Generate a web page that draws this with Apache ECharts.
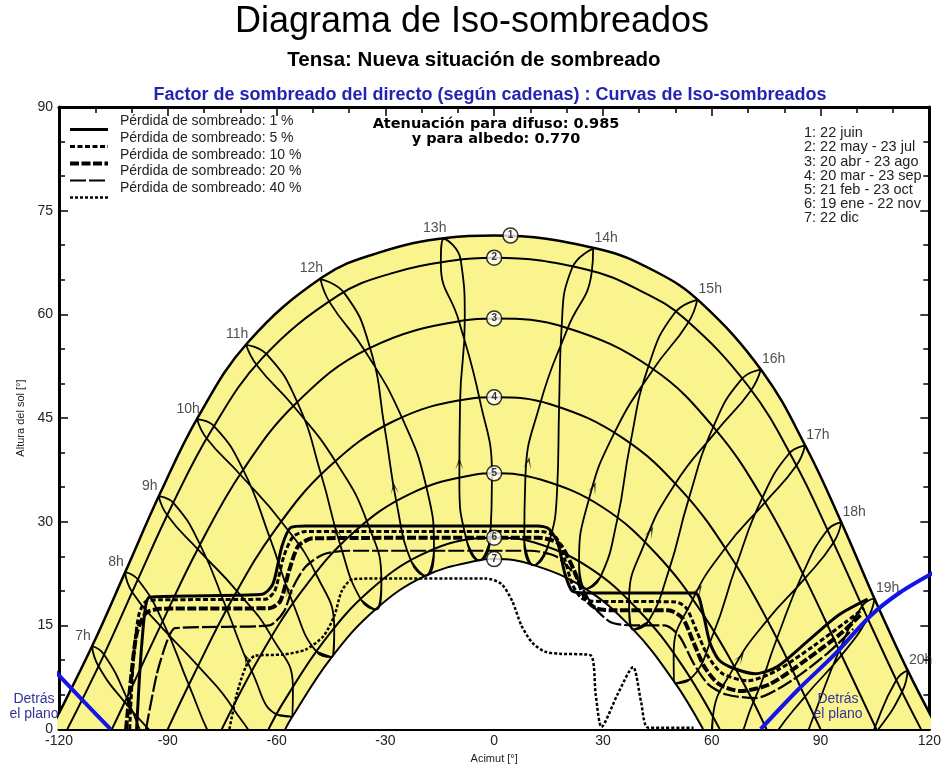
<!DOCTYPE html>
<html>
<head>
<meta charset="utf-8">
<title>Diagrama de Iso-sombreados</title>
<script src="https://cdn.jsdelivr.net/npm/echarts@6/dist/echarts.min.js"></script>
<style>
  html, body { margin: 0; padding: 0; background: #fff; }
  #chart { width: 944px; height: 769px; }
</style>
</head>
<body>
<div id="chart"></div>
<script>
const sol1 = [[-122.4,0],[-120.1,2.2],[-110.6,12.3],[-101.5,23.0],[-92.2,34.0],[-81.6,45.2],[-68.0,55.9],[-47.3,65.4],[-32.0,68.9],[-12.8,71.1],[0,71.4],[28.5,69.5],[44.5,66.2],[56.8,61.8],[74.0,51.7],[86.1,40.7],[96.0,29.6],[105.1,18.6],[114.3,8.2],[122.4,0]];
const sol2 = [[-117.7,0],[-108.1,10.2],[-98.8,21.0],[-89.1,32.1],[-78.0,43.2],[-63.9,53.7],[-43.1,62.7],[-28.6,65.9],[-11.3,67.8],[0,68.2],[25.4,66.5],[40.4,63.4],[52.5,59.4],[70.1,49.6],[82.7,38.8],[93.0,27.6],[102.5,16.6],[111.9,6.0],[117.7,0]];
const sol3 = [[-105.4,0],[-101.5,4.3],[-91.6,15.4],[-81.3,26.5],[-69.5,37.3],[-54.7,47.1],[-34.8,55.0],[-8.6,59.1],[0,59.4],[19.7,58.1],[43.5,52.2],[61.1,43.3],[74.5,33.0],[85.5,22.1],[95.6,10.9],[105.4,0]];
const sol4 = [[-90,0],[-82.9,7.8],[-72.3,18.7],[-60.3,28.9],[-45.8,37.8],[-27.9,44.5],[-6.7,47.8],[0,48],[15.5,47.0],[35.5,42.1],[51.9,34.4],[65.3,24.9],[76.7,14.4],[87.0,3.3],[90,0]];
const sol5 = [[-75.1,0],[-64.4,10.7],[-52.7,20.2],[-39.1,28.3],[-23.3,34.0],[-5.5,36.8],[0,37],[12.8,36.1],[29.9,32.1],[44.8,25.3],[57.6,16.6],[68.7,6.7],[75.1,0]];
const sol6 = [[-62.2,0],[-58.1,3.9],[-47.0,12.7],[-34.4,20.0],[-20.2,25.2],[-4.8,27.6],[0,27.7],[11.1,27.0],[26.1,23.4],[39.6,17.3],[51.6,9.4],[62.2,0]];
const sol7 = [[-57.6,0],[-55.9,1.6],[-45.1,10.2],[-33.0,17.2],[-19.3,22.1],[-4.5,24.4],[0,24.6],[10.5,23.8],[24.9,20.4],[38.0,14.6],[49.6,6.9],[57.6,0]];

// Lineas horarias (dic, ene, feb, mar, abr, may, jun, jul, ago, sep, oct, nov, dic)
const hora07 = [[-74.9,-18.6],[-79.1,-18.6],[-87.0,-13.2],[-94.3,-4.7],[-101.3,4.5],[-107.6,10.8],[-110.9,12.0],[-109.1,9.1],[-101.9,3.9],[-91.8,-2.0],[-82.1,-7.7],[-75.2,-14.2],[-74.9,-18.6]];
const hora08 = [[-65.4,-7.9],[-69.7,-7.9],[-77.1,-2.2],[-84.2,6.4],[-91.4,15.6],[-98.2,21.6],[-101.8,22.7],[-99.8,19.8],[-92.0,14.9],[-81.6,9.1],[-72.1,3.1],[-65.7,-3.8],[-65.4,-7.9]];
const hora09 = [[-55.7,1.8],[-59.8,2.1],[-66.8,8.3],[-73.7,17.3],[-81.1,26.7],[-88.4,32.7],[-92.5,33.7],[-90.1,30.9],[-81.7,26.0],[-70.8,19.9],[-61.3,13.3],[-55.5,6.0],[-55.7,1.8]];
const hora10 = [[-44.8,10.4],[-49.0,11.2],[-55.4,18.1],[-61.8,27.6],[-69.2,37.5],[-77.2,43.8],[-81.9,44.8],[-79.2,42.0],[-70.0,36.8],[-58.5,29.9],[-49.1,22.4],[-44.1,14.4],[-44.8,10.4]];
const hora11 = [[-32.6,17.3],[-36.7,18.7],[-42.3,26.4],[-47.6,36.6],[-54.3,47.3],[-62.7,54.2],[-68.4,55.6],[-65.4,52.6],[-55.3,46.7],[-43.6,38.6],[-34.9,29.8],[-31.1,21.2],[-32.6,17.3]];
const hora12 = [[-18.9,22.2],[-22.8,24.2],[-26.9,32.7],[-30.2,43.6],[-34.2,55.1],[-41.2,63.0],[-47.9,65.1],[-45.3,61.7],[-35.6,54.7],[-25.3,44.9],[-18.6,34.8],[-16.6,25.7],[-18.9,22.2]];
const hora13 = [[-4.1,24.4],[-7.5,27.1],[-9.6,36.2],[-9.4,47.4],[-8.1,59.1],[-9.2,67.8],[-13.9,70.9],[-14.7,67.3],[-9.7,59.0],[-4.0,47.7],[-0.6,36.6],[-1.1,27.4],[-4.1,24.4]];
const hora14 = [[10.9,23.7],[8.3,27.1],[8.6,36.3],[12.7,47.1],[20.2,57.9],[26.9,66.1],[27.3,69.5],[21.4,66.6],[18.6,58.1],[17.9,46.4],[17.4,35.0],[14.6,26.1],[10.9,23.7]];
const hora15 = [[25.3,20.3],[23.4,24.0],[26.0,33.0],[33.0,42.7],[43.8,52.0],[53.5,58.8],[56.0,62.1],[49.6,60.1],[42.5,52.4],[37.5,41.2],[33.9,30.2],[29.3,22.0],[25.3,20.3]];
const hora16 = [[38.3,14.4],[37.2,18.4],[41.4,26.8],[49.8,35.4],[61.3,43.1],[70.8,49.0],[73.5,52.0],[68.2,50.6],[60.4,43.7],[53.6,33.2],[48.2,23.0],[42.4,15.5],[38.3,14.4]];
const hora17 = [[49.9,6.6],[49.5,10.8],[54.6,18.6],[63.6,26.1],[74.7,32.8],[83.3,38.1],[85.7,41.0],[81.4,39.9],[73.9,33.4],[66.7,23.6],[60.5,13.9],[54.0,7.2],[49.9,6.6]];
const hora18 = [[59.9,-2.2],[60.3,1.7],[66.1,8.9],[75.2,15.7],[85.7,21.8],[93.6,27.0],[95.7,29.9],[91.9,28.8],[85.1,22.5],[77.9,13.0],[71.4,3.8],[64.4,-2.4],[59.9,-2.2]];
const hora19 = [[69.4,-12.3],[70.1,-8.4],[76.5,-1.6],[85.7,4.7],[95.8,10.7],[103.0,16.0],[104.9,18.9],[101.5,17.8],[95.2,11.4],[88.2,2.0],[81.5,-7.0],[73.9,-12.7],[69.4,-12.3]];
const hora20 = [[78.5,-23.0],[79.5,-19.1],[86.4,-12.6],[95.8,-6.4],[105.7,-0.2],[112.5,5.4],[114.0,8.5],[110.9,7.1],[105.1,0.4],[98.4,-9.1],[91.4,-18.1],[83.4,-23.6],[78.5,-23.0]];
const horaNombres = ['7h','8h','9h','10h','11h','12h','13h','14h','15h','16h','17h','18h','19h','20h'];

// flechas de sentido [acimut, altura, giro]
const flechas = [[-68.2,10.1,22],[-56.7,20.0,19],[-43.4,28.4,15],[-27.6,34.9,9],[-9.6,38.4,0],[9.4,38.5,-11],[27.4,34.9,-21],[43.1,28.5,-27],[56.4,20.1,-32],[67.9,10.3,-35]];

// marcas de fecha [acimut, altura, numero]
const marcas = [[4.5,71.4,'1'],[0,68.2,'2'],[0,59.4,'3'],[0,48,'4'],[0,37,'5'],[0,27.7,'6'],[0,24.6,'7']];
const fechasTexto = ['1: 22 juin','2: 22 may - 23 jul','3: 20 abr - 23 ago','4: 20 mar - 23 sep','5: 21 feb - 23 oct','6: 19 ene - 22 nov','7: 22 dic'];

// curvas de iso-sombreado
const perdida1 = [[-98.6,0],[-97.5,10],[-96.2,17.5],[-95,19.1],[-80,19.3],[-64,19.5],[-61,21],[-58.5,26.5],[-56,29.2],[-52,29.4],[12,29.4],[15,29],[17.5,27],[19.5,22.5],[21.5,20],[25,19.7],[55.4,19.7],[57.5,17],[59.5,12.5],[62,10],[66,8.8],[72,8],[78,9],[86,12.5],[95,16.5],[103,18.8]];
const perdida5 = [[-100.5,0],[-99.5,10],[-98,16.5],[-96,18.5],[-92,18.7],[-63,18.8],[-60.5,20],[-58,25],[-55.5,27.8],[-52,28.6],[13,28.6],[17,27.8],[19.5,24.5],[21.5,21],[24,19],[27,18.5],[50,18.4],[53,17.5],[56,14],[59,10.5],[63,8],[70,7],[78,8.5],[88,12],[97,15.5],[102,17.5]];
const perdida10 = [[-101.5,0],[-100,8],[-98.5,14],[-96,16.8],[-92,17.4],[-62,17.5],[-59,18.5],[-56.5,23],[-54,26.5],[-50,27.6],[12,27.7],[18,26.8],[22,23],[25,19],[28,17.5],[32,17.2],[48,17.2],[52,16],[55,12.5],[58,9],[62,6.5],[68,5.5],[76,6.5],[86,10],[96,14],[101,16.5]];
const perdida20 = [[-96,0],[-93,8],[-90,13],[-88,14.6],[-75,14.8],[-62,15],[-58,17],[-55.5,20.5],[-52,23.5],[-47,25.3],[-40,25.8],[10,25.8],[17,25],[22,22.5],[27,18],[32,15.5],[38,15],[47,15],[51,13.5],[55,9.5],[59,6.5],[64,5],[72,4.5],[82,7],[92,11],[99,14.5]];
const perdida40 = [[-73,0],[-71,5],[-68.5,9],[-66,10.6],[-58,10.8],[-52,11.5],[-47,13.5],[-44,16.5],[-42,20],[-39,21.7],[-30,21.8],[-2.4,21.8],[2,21],[5,18.5],[7.5,15],[10.5,12.5],[14,11.2],[18,10.9],[26.5,10.7],[28,5],[29.6,0.3],[34,5],[38.3,9],[40.5,4],[42.5,0.2],[55,0.2]];
const perdidaNombres = ['Pérdida de sombreado: 1 %','Pérdida de sombreado: 5 %','Pérdida de sombreado: 10 %','Pérdida de sombreado: 20 %','Pérdida de sombreado: 40 %'];

// plano de los modulos
const planoIzq = [[-121,8.3],[-113,3.9],[-105.8,0]];
const planoDer = [[73.5,0],[84,5.8],[93.9,10.8],[103.8,16.4],[112,19.8],[121,22.6]];

const amarillo = '#faf48e';
const fuente = 'Liberation Sans, Arial, sans-serif';
const horas = [hora07,hora08,hora09,hora10,hora11,hora12,hora13,hora14,hora15,hora16,hora17,hora18,hora19,hora20];

const series = [];
// zona amarilla y hueco blanco
series.push({ type: 'line', data: sol1, smooth: 0.4, showSymbol: false, silent: true, z: 1,
  lineStyle: { color: '#000', width: 2.5 }, areaStyle: { color: amarillo, opacity: 1 } });
series.push({ type: 'line', data: sol7, smooth: 0.4, showSymbol: false, silent: true, z: 1,
  lineStyle: { color: '#000', width: 2 }, areaStyle: { color: '#fff', opacity: 1 } });
[sol2, sol3, sol4, sol5, sol6].forEach(d => {
  series.push({ type: 'line', data: d, smooth: 0.4, showSymbol: false, silent: true, z: 2,
    lineStyle: { color: '#000', width: 2 } });
});
horas.forEach(h => {
  // cerrar el lazo por diciembre
  const lazo = [h[11]].concat(h, [h[1]]);
  series.push({ type: 'line', data: lazo, smooth: 0.5, showSymbol: false, silent: true, z: 2,
    lineStyle: { color: '#000', width: 1.8 } });
});

const estilos = [
  { width: 3, type: 'solid' },
  { width: 3, type: [5, 2.5] },
  { width: 4, type: [9, 2.5] },
  { width: 2.2, type: [16, 3] },
  { width: 2.5, type: [3, 2] }
];
[perdida1, perdida5, perdida10, perdida20, perdida40].forEach((d, i) => {
  series.push({ type: 'line', name: perdidaNombres[i], data: d, smooth: 0.25, showSymbol: false, silent: true, z: 3,
    lineStyle: Object.assign({ color: '#000' }, estilos[i]) });
});

[planoIzq, planoDer].forEach(d => {
  series.push({ type: 'line', data: d, smooth: 0.3, showSymbol: false, silent: true, z: 4,
    lineStyle: { color: '#1414e6', width: 4 } });
});

// punta de flecha abierta
series.push({ type: 'scatter', z: 5, silent: true,
  data: flechas.map(f => ({ value: [f[0], f[1]], symbolRotate: f[2] })),
  symbol: 'path://M0,14 L5,0 L10,14 L5,5 Z', symbolSize: [8, 12], itemStyle: { color: '#000' } });

series.push({ type: 'scatter', z: 6, silent: true,
  data: horas.map((h, i) => ({
    value: h[6],
    label: { offset: [i < 7 ? -9 : 13, 0] }
  })),
  symbolSize: 1, itemStyle: { color: 'rgba(0,0,0,0)' },
  label: { show: true, position: 'top', distance: 3, fontFamily: fuente, fontSize: 14, color: '#222',
    formatter: p => horaNombres[p.dataIndex] } });

series.push({ type: 'scatter', z: 7, silent: true,
  data: marcas.map(m => ({ value: [m[0], m[1]], name: m[2] })),
  symbol: 'circle', symbolSize: 15,
  itemStyle: { color: '#fff', borderColor: '#000', borderWidth: 1.5 },
  label: { show: true, position: 'inside', formatter: '{b}', fontFamily: fuente, fontSize: 10, fontWeight: 'bold', color: '#000' } });

const ejeX = {
  type: 'value', min: -120, max: 120, interval: 30,
  axisLine: { onZero: false, lineStyle: { color: '#000', width: 3 } },
  axisTick: { inside: true, length: 9, lineStyle: { color: '#000', width: 1.5 } },
  minorTick: { show: true, splitNumber: 3, length: 6, lineStyle: { color: '#000', width: 1.5 } },
  splitLine: { show: false }
};
const ejeY = {
  type: 'value', min: 0, max: 90, interval: 15,
  axisLine: { onZero: false, lineStyle: { color: '#000', width: 3 } },
  axisTick: { inside: true, length: 9, lineStyle: { color: '#000', width: 1.5 } },
  minorTick: { show: true, splitNumber: 3, length: 6, lineStyle: { color: '#000', width: 1.5 } },
  splitLine: { show: false }
};

const leyendaLineas = estilos.map((e, i) => ({
  type: 'line',
  shape: { x1: 70, y1: 129.5 + i * 17, x2: 108, y2: 129.5 + i * 17 },
  style: { stroke: '#000', lineWidth: e.width, lineDash: e.type === 'solid' ? null : e.type }
}));

const chart = echarts.init(document.getElementById('chart'));
chart.setOption({
  animation: false,
  backgroundColor: '#fff',
  textStyle: { fontFamily: fuente },
  grid: { left: 59, right: 11, top: 107, bottom: 39 },
  title: [
    { text: 'Diagrama de Iso-sombreados', left: 472, top: 4, textAlign: 'center', padding: 0,
      textStyle: { fontFamily: fuente, fontSize: 36, fontWeight: 'normal', color: '#000' } },
    { text: 'Tensa: Nueva situación de sombreado', left: 474, top: 50, textAlign: 'center', padding: 0,
      textStyle: { fontFamily: fuente, fontSize: 20.5, fontWeight: 'bold', color: '#000' } },
    { text: 'Factor de sombreado del directo (según cadenas) : Curvas de Iso-sombreados', left: 490, top: 86, textAlign: 'center', padding: 0,
      textStyle: { fontFamily: fuente, fontSize: 18, fontWeight: 'bold', color: '#2424b4' } },
    { text: 'Atenuación para difuso: 0.985\ny para albedo: 0.770', left: 496, top: 117, textAlign: 'center', padding: 0,
      textStyle: { fontFamily: 'DejaVu Sans, sans-serif', fontSize: 14.5, fontWeight: 'bold', color: '#000', lineHeight: 15 } },
    { text: perdidaNombres.join('\n'), left: 120, top: 113, padding: 0,
      textStyle: { fontFamily: fuente, fontSize: 14, fontWeight: 'normal', color: '#222', lineHeight: 16.7 } },
    { text: fechasTexto.join('\n'), left: 804, top: 126, padding: 0,
      textStyle: { fontFamily: fuente, fontSize: 14.5, fontWeight: 'normal', color: '#222', lineHeight: 14.2 } },
    { text: 'Detrás\nel plano', left: 34, top: 692, textAlign: 'center', padding: 0,
      textStyle: { fontFamily: fuente, fontSize: 14, fontWeight: 'normal', color: '#33339a', lineHeight: 15 } },
    { text: 'Detrás\nel plano', left: 838, top: 692, textAlign: 'center', padding: 0,
      textStyle: { fontFamily: fuente, fontSize: 14, fontWeight: 'normal', color: '#33339a', lineHeight: 15 } }
  ],
  graphic: leyendaLineas,
  xAxis: [
    Object.assign({}, ejeX, { position: 'bottom', name: 'Acimut [°]', nameLocation: 'middle', nameGap: 21,
      nameTextStyle: { fontFamily: fuente, fontSize: 11, color: '#222' },
      axisLabel: { margin: 5, fontFamily: fuente, fontSize: 14, color: '#222' } }),
    Object.assign({}, ejeX, { position: 'top', axisLabel: { show: false } })
  ],
  yAxis: [
    Object.assign({}, ejeY, { position: 'left', name: 'Altura del sol [°]', nameLocation: 'middle', nameGap: 33,
      nameTextStyle: { fontFamily: fuente, fontSize: 11, color: '#222' },
      axisLabel: { margin: 6, fontFamily: fuente, fontSize: 14, color: '#222' } }),
    Object.assign({}, ejeY, { position: 'right', axisLabel: { show: false } })
  ],
  series: series
});
</script>
</body>
</html>
